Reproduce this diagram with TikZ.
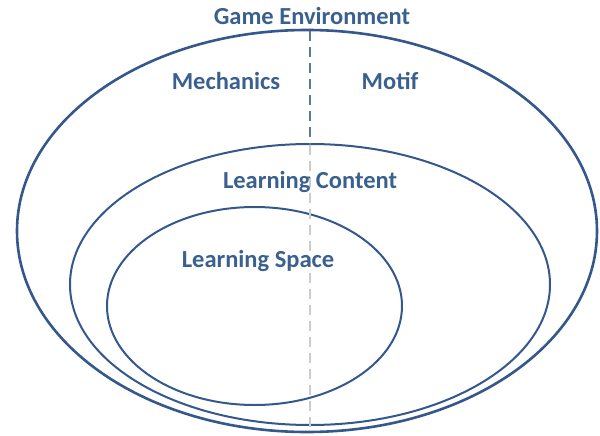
\documentclass[tikz,border=0pt]{standalone}
\usepackage{fontspec}
\setmainfont{Carlito}
\definecolor{ringblue}{HTML}{34578C}
\definecolor{textblue}{HTML}{3A6090}
\tikzset{
  ring/.style={draw=ringblue, line width=2pt},
  label/.style={text=textblue, font=\bfseries\fontsize{24.5}{26}\selectfont, anchor=base},
  divider/.style={dashed, dash pattern=on 10pt off 6pt, line width=1.4pt}
}
\begin{document}
\begin{tikzpicture}[x=1pt, y=-1pt]
  \useasboundingbox (0,0) rectangle (600,436);
  % Nested circles
  \draw[ring, line width=2.6pt] (307,231) ellipse (290 and 201);
  \draw[ring] (310,284.5) ellipse (240 and 140.5);
  \draw[ring] (254.5,306) ellipse (147.5 and 99);
  % Split line
  \coordinate (top) at (310,31);
  \coordinate (mid) at (310,145);
  \coordinate (bot) at (310,430);
  \draw[divider, ringblue!80] (top) -- (mid);
  \draw[divider, gray!40] (mid) -- (bot);
  % Labels
  \node[label] (game) at (312,25) {Game Environment};
  \node[label] (mech) at (226,90) {Mechanics};
  \node[label] (motif) at (390,90) {Motif};
  \node[label] (content) at (310,188) {Learning Content};
  \node[label] (space) at (258,267) {Learning Space};
\end{tikzpicture}
\end{document}
